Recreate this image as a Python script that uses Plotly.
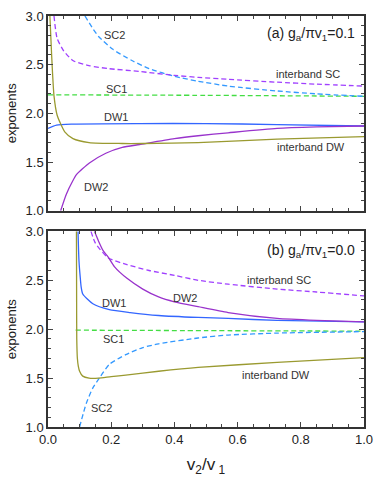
import plotly.graph_objects as go

# ---- panel (a): g_a/pi v1 = 0.1 ----
a_sc2_x = [0.117, 0.144, 0.16, 0.204, 0.267, 0.32, 0.4, 0.475, 0.57, 0.725, 0.85, 1.0]
a_sc2_y = [3.0, 2.86, 2.79, 2.66, 2.54, 2.46, 2.38, 2.33, 2.28, 2.23, 2.20, 2.175]

a_isc_x = [0.019, 0.029, 0.05, 0.08, 0.13, 0.19, 0.29, 0.4, 0.475, 0.57, 0.725, 0.85, 1.0]
a_isc_y = [3.0, 2.77, 2.64, 2.54, 2.49, 2.46, 2.43, 2.39, 2.37, 2.35, 2.32, 2.30, 2.28]

a_sc1_x = [0.0, 0.5, 1.0]
a_sc1_y = [2.19, 2.185, 2.175]

a_dw1_x = [0.0, 0.027, 0.08, 0.29, 0.5, 0.725, 1.0]
a_dw1_y = [1.845, 1.88, 1.89, 1.895, 1.895, 1.885, 1.87]

a_idw_x = [0.006, 0.0115, 0.019, 0.029, 0.0375, 0.053, 0.079, 0.13, 0.235, 0.3, 0.475, 0.725, 1.0]
a_idw_y = [3.0, 2.6, 2.18, 1.98, 1.91, 1.81, 1.74, 1.70, 1.69, 1.69, 1.70, 1.735, 1.76]

a_dw2_x = [0.04, 0.058, 0.079, 0.09, 0.131, 0.183, 0.235, 0.29, 0.4, 0.475, 0.57, 0.725, 0.85, 1.0]
a_dw2_y = [1.0, 1.17, 1.31, 1.37, 1.49, 1.59, 1.65, 1.68, 1.74, 1.77, 1.80, 1.845, 1.86, 1.87]

# ---- panel (b): g_a/pi v1 = 0.0 ----
b_idw_x = [0.09, 0.0905, 0.091, 0.093, 0.096, 0.10, 0.11, 0.13, 0.16, 0.2, 0.246, 0.35, 0.475, 0.725, 1.0]
b_idw_y = [3.0, 2.4, 1.9, 1.7, 1.62, 1.57, 1.52, 1.50, 1.50, 1.515, 1.53, 1.57, 1.61, 1.66, 1.71]

b_sc1_x = [0.0875, 0.5, 1.0]
b_sc1_y = [1.99, 1.985, 1.98]

b_dw1_x = [0.095, 0.098, 0.102, 0.105, 0.11, 0.142, 0.194, 0.26, 0.35, 0.475, 0.57, 0.725, 1.0]
b_dw1_y = [3.0, 2.70, 2.53, 2.43, 2.36, 2.26, 2.20, 2.17, 2.14, 2.12, 2.11, 2.09, 2.075]

b_dw2_x = [0.147, 0.16, 0.175, 0.19, 0.21, 0.25, 0.3, 0.35, 0.4, 0.475, 0.57, 0.725, 0.85, 1.0]
b_dw2_y = [3.0, 2.90, 2.80, 2.74, 2.64, 2.52, 2.41, 2.33, 2.28, 2.23, 2.17, 2.11, 2.09, 2.075]

b_isc_x = [0.136, 0.15, 0.19, 0.25, 0.32, 0.4, 0.475, 0.57, 0.725, 0.85, 1.0]
b_isc_y = [3.0, 2.88, 2.73, 2.66, 2.60, 2.55, 2.50, 2.46, 2.41, 2.38, 2.34]

b_sc2_x = [0.10, 0.121, 0.142, 0.1625, 0.194, 0.246, 0.298, 0.35, 0.475, 0.57, 0.725, 1.0]
b_sc2_y = [1.0, 1.24, 1.40, 1.50, 1.64, 1.74, 1.81, 1.85, 1.91, 1.94, 1.96, 1.975]

OLIVE = '#9a9a30'
BLUE = '#3366ff'
LBLUE = '#3399ff'
VIOLET = '#9933cc'
LVIOLET = '#a040ff'
GREEN = '#44dd44'
DASH = '5px,3px'

fig = go.Figure()


def add_line(x, y, color, dash, ax):
    fig.add_trace(go.Scatter(x=x, y=y, mode='lines', showlegend=False,
                             line=dict(color=color, width=1.3, dash=dash, shape='spline', smoothing=0.6),
                             xaxis='x' if ax == 1 else 'x2', yaxis='y' if ax == 1 else 'y2'))


add_line(a_sc1_x, a_sc1_y, GREEN, DASH, 1)
add_line(a_sc2_x, a_sc2_y, LBLUE, DASH, 1)
add_line(a_isc_x, a_isc_y, LVIOLET, DASH, 1)
add_line(a_dw1_x, a_dw1_y, BLUE, 'solid', 1)
add_line(a_dw2_x, a_dw2_y, VIOLET, 'solid', 1)
add_line(a_idw_x, a_idw_y, OLIVE, 'solid', 1)

add_line(b_sc1_x, b_sc1_y, GREEN, DASH, 2)
add_line(b_sc2_x, b_sc2_y, LBLUE, DASH, 2)
add_line(b_isc_x, b_isc_y, LVIOLET, DASH, 2)
add_line(b_dw1_x, b_dw1_y, BLUE, 'solid', 2)
add_line(b_dw2_x, b_dw2_y, VIOLET, 'solid', 2)
add_line(b_idw_x, b_idw_y, OLIVE, 'solid', 2)

tickfont = dict(family='Liberation Sans, Arial', size=13, color='#222')
xcommon = dict(range=[0, 1], dtick=0.2, tickformat='.1f', ticks='inside', ticklen=5,
               showline=True, linecolor='#333', linewidth=1.5, mirror='allticks',
               showgrid=False, zeroline=False, tickfont=tickfont,
               minor=dict(dtick=0.05, ticks='inside', ticklen=3, showgrid=False))
ycommon = dict(range=[1, 3], dtick=0.5, tickformat='.1f', ticks='inside', ticklen=5,
               showline=True, linecolor='#333', linewidth=1.5, mirror='allticks',
               showgrid=False, zeroline=False, tickfont=tickfont,
               title=dict(text='exponents', font=dict(family='Liberation Sans, Arial', size=13, color='#222'), standoff=6),
               minor=dict(dtick=0.1, ticks='inside', ticklen=3, showgrid=False))

fig.update_layout(
    width=382, height=483,
    margin=dict(l=48, r=14, t=9, b=56),
    plot_bgcolor='white', paper_bgcolor='white',
    font=dict(family='Liberation Sans, Arial', color='#222'),
    xaxis=dict(xcommon, anchor='y', showticklabels=False),
    yaxis=dict(ycommon, domain=[0.5263, 1.0], anchor='x'),
    xaxis2=dict(xcommon, anchor='y2',
                title=dict(text='v<sub>2</sub>/v<sub> 1</sub>', font=dict(size=17), standoff=12)),
    yaxis2=dict(ycommon, domain=[0.0, 0.476], anchor='x2'),
)

lab = dict(showarrow=False, font=dict(size=11, color='#333'))
top_labels = [('SC2', 0.209, 2.81), ('SC1', 0.216, 2.25), ('DW1', 0.216, 1.96), ('DW2', 0.153, 1.24),
              ('interband SC', 0.822, 2.40), ('interband DW', 0.831, 1.65)]
bot_labels = [('DW1', 0.209, 2.27), ('DW2', 0.434, 2.32), ('SC1', 0.206, 1.90), ('SC2', 0.169, 1.19),
              ('interband SC', 0.731, 2.50), ('interband DW', 0.722, 1.53)]
for t, x, y in top_labels:
    fig.add_annotation(text=t, x=x, y=y, xref='x', yref='y', **lab)
for t, x, y in bot_labels:
    fig.add_annotation(text=t, x=x, y=y, xref='x2', yref='y2', **lab)

fig.add_annotation(text='(a) g<sub>a</sub>/πv<sub>1</sub>=0.1', x=0.978, y=2.82, xref='x', yref='y',
                   xanchor='right', showarrow=False, font=dict(size=14, color='#222'))
fig.add_annotation(text='(b) g<sub>a</sub>/πv<sub>1</sub>=0.0', x=0.978, y=2.80, xref='x2', yref='y2',
                   xanchor='right', showarrow=False, font=dict(size=14, color='#222'))

# page body has a default 8px margin; drop it so the figure sits at the window origin
fig.write_html("out.html", config={'displayModeBar': False},
               post_script="document.body.style.margin='0px';")
